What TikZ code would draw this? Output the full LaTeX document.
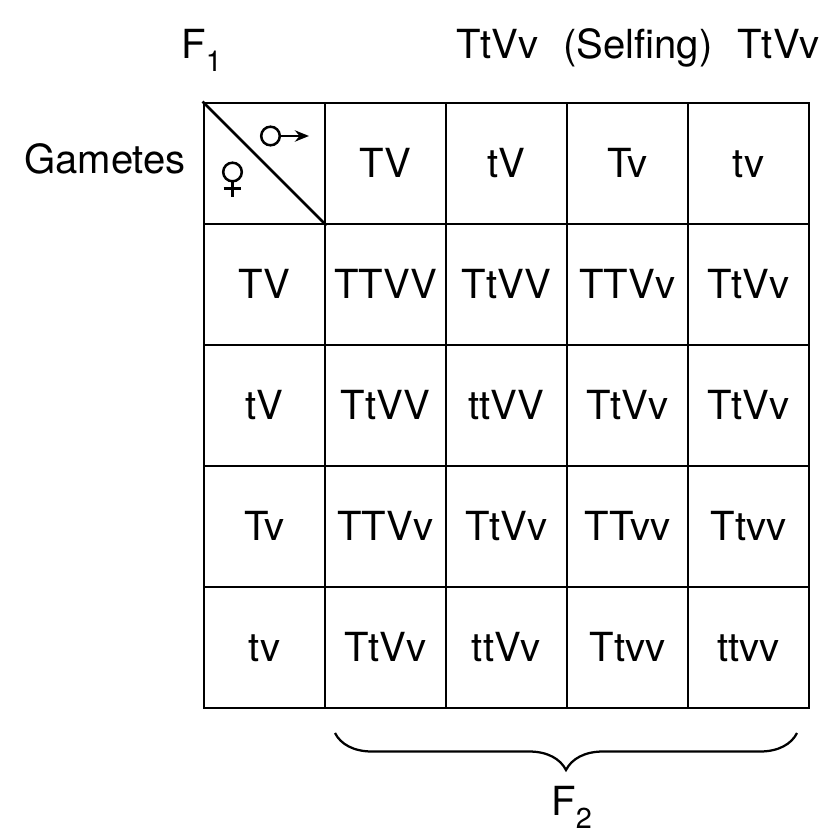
\documentclass[tikz,border=0pt]{standalone}
\usepackage{fontspec}
\setmainfont{TeX Gyre Heros}
\usetikzlibrary{decorations.pathreplacing,arrows.meta}
\newcommand{\lowsub}[1]{\raisebox{-0.32em}{\scalebox{0.72}{#1}}}
\begin{document}
\begin{tikzpicture}[x=0.025cm,y=-0.025cm,
  cell/.style={rectangle,draw=black,line width=2pt,minimum width=3.025cm,minimum height=3.025cm,inner sep=0pt,text height=0.72em,text depth=0pt},
  lbl/.style={inner sep=0pt,text height=0.72em,text depth=0pt},
  sym/.style={line width=1.8pt}]
\fontsize{28.5}{34}\selectfont
\useasboundingbox[fill=white] (0,0) rectangle (826,834);
% heading
\node[lbl,anchor=west] (F1) at (181,44) {F\lowsub{1}};
\node[lbl] (cross) at (638,44) {TtVv\hspace{0.62em}(Selfing)\hspace{0.62em}TtVv};
\node[lbl] (gam) at (105,159) {Gametes};
% corner
\node[cell] (g00) at (264.5,163.5) {};
\draw[line width=1.8pt] (g00.north west) -- (g00.south east);
\draw[sym] (270.5,136) circle (9.3);
\draw[sym,-{Stealth[length=10pt,width=8pt]}] (279.8,136) -- (309,136);
\draw[sym] (232.5,172) circle (9.3);
\draw[sym] (232.5,181.3) -- (232.5,197);
\draw[sym] (223.5,188.5) -- (240.5,188.5);
% male gametes
\node[cell] (g01) at (385.5,163.5) {TV};
\node[cell] (g02) at (506.5,163.5) {tV};
\node[cell] (g03) at (627.5,163.5) {Tv};
\node[cell] (g04) at (748.5,163.5) {tv};
% female gametes
\node[cell] (g10) at (264.5,284.5) {TV};
\node[cell] (g20) at (264.5,405.5) {tV};
\node[cell] (g30) at (264.5,526.5) {Tv};
\node[cell] (g40) at (264.5,647.5) {tv};
% offspring
\node[cell] (g11) at (385.5,284.5) {TTVV};
\node[cell] (g12) at (506.5,284.5) {TtVV};
\node[cell] (g13) at (627.5,284.5) {TTVv};
\node[cell] (g14) at (748.5,284.5) {TtVv};
\node[cell] (g21) at (385.5,405.5) {TtVV};
\node[cell] (g22) at (506.5,405.5) {ttVV};
\node[cell] (g23) at (627.5,405.5) {TtVv};
\node[cell] (g24) at (748.5,405.5) {TtVv};
\node[cell] (g31) at (385.5,526.5) {TTVv};
\node[cell] (g32) at (506.5,526.5) {TtVv};
\node[cell] (g33) at (627.5,526.5) {TTvv};
\node[cell] (g34) at (748.5,526.5) {Ttvv};
\node[cell] (g41) at (385.5,647.5) {TtVv};
\node[cell] (g42) at (506.5,647.5) {ttVv};
\node[cell] (g43) at (627.5,647.5) {Ttvv};
\node[cell] (g44) at (748.5,647.5) {ttvv};
% F2 brace
\coordinate (bl) at (335,733);
\coordinate (br) at (797,733);
\draw[line width=1.6pt,decorate,decoration={brace,mirror,amplitude=0.925cm}] (bl) -- (br);
\node[lbl,anchor=west] (F2) at (551,801) {F\lowsub{2}};
\end{tikzpicture}
\end{document}
